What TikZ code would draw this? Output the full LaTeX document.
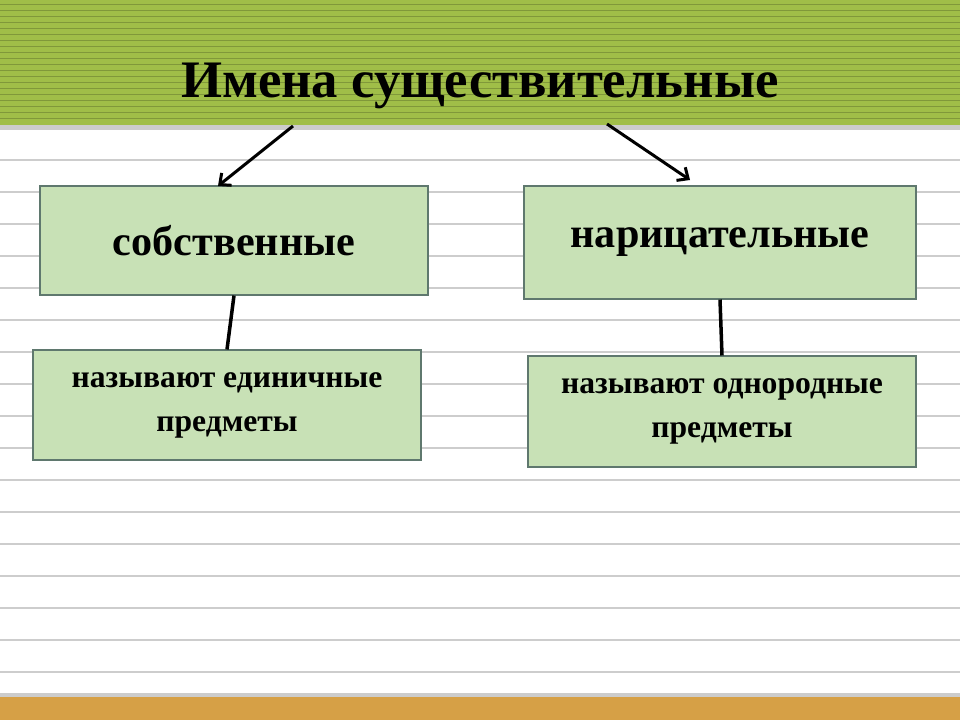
\documentclass[tikz,border=0pt]{standalone}
\usepackage{fontspec}
\setmainfont{Liberation Serif}
\usetikzlibrary{arrows.meta, positioning}
\definecolor{bandgreen}{RGB}{160,190,72}
\definecolor{bandorange}{RGB}{214,160,70}
\definecolor{boxfill}{RGB}{200,225,182}
\definecolor{boxline}{RGB}{95,120,110}
\definecolor{ruleline}{RGB}{205,205,205}

\begin{document}
\begin{tikzpicture}[
    x=0.02cm, y=-0.02cm,
    kind/.style={rectangle, draw=boxline, fill=boxfill, line width=0.6pt, align=center, font=\bfseries\fontsize{24}{28}\selectfont},
    note/.style={kind, font=\bfseries\fontsize{18}{25}\selectfont},
    arrow/.style={-{Straight Barb[length=5pt, width=9pt]}, line width=1.7pt},
    link/.style={line width=2pt}
]
    \useasboundingbox (0,0) rectangle (960,720);
    \fill[white] (0,0) rectangle (960,720);
    % ruled paper
    \foreach \y in {160,192,...,690}
        \draw[ruleline, line width=0.8pt] (0,\y) -- (960,\y);
    \fill[bandgreen] (0,0) rectangle (960,125);
    \foreach \y in {4,10,...,122}
        \draw[bandgreen!80!black, line width=0.5pt] (0,\y) -- (960,\y);
    \fill[gray!40] (0,125) rectangle (960,130);
    \fill[bandorange] (0,697) rectangle (960,720);
    \fill[gray!40] (0,693) rectangle (960,697);

    \node[font=\bfseries\fontsize{30}{34}\selectfont] (title) at (480,86) {Имена существительные};

    \node[kind, minimum width=388*0.02cm, minimum height=109*0.02cm] (own) at (234,240.5) {собственные};
    \node[kind, minimum width=392*0.02cm, minimum height=113*0.02cm] (common) at (720,242.5) {нарицательные};
    \node[note, minimum width=388*0.02cm, minimum height=110*0.02cm] (ownnote) at (227,405) {называют единичные\\предметы};
    \node[note, minimum width=388*0.02cm, minimum height=111*0.02cm] (commonnote) at (722,411.5) {называют однородные\\предметы};

    \coordinate (lstart) at (293,126);
    \coordinate (lend) at (218,186);
    \coordinate (rstart) at (607,124);
    \coordinate (rend) at (690,180);
    \draw[arrow] (lstart) -- (lend);
    \draw[arrow] (rstart) -- (rend);
    \draw[link] (own.south) -- (ownnote.north);
    \draw[link] (common.south) -- (commonnote.north);
\end{tikzpicture}
\end{document}
